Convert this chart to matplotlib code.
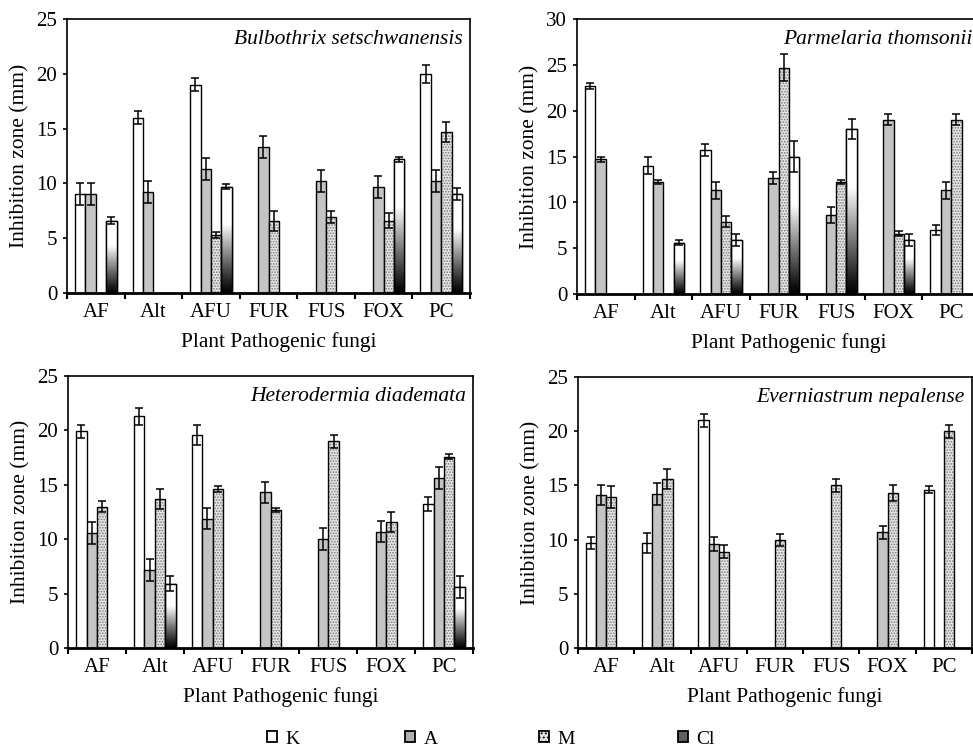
import numpy as np
import matplotlib
matplotlib.use("Agg")
import matplotlib.pyplot as plt
from matplotlib.patches import Patch

nan = np.nan
fungi = ["AF", "Alt", "AFU", "FUR", "FUS", "FOX", "PC"]
series_names = ["K", "A", "M", "Cl"]

# Bulbothrix setschwanensis
bul_K = [9.0, 16.0, 19.0, nan, nan, nan, 20.0]
bul_K_err = [1.0, 0.6, 0.6, nan, nan, nan, 0.8]
bul_A = [9.0, 9.2, 11.3, 13.3, 10.2, 9.7, 10.2]
bul_A_err = [1.0, 1.0, 1.0, 1.0, 1.0, 1.0, 1.0]
bul_M = [nan, nan, 5.3, 6.6, 6.9, 6.6, 14.7]
bul_M_err = [nan, nan, 0.25, 0.9, 0.55, 0.7, 0.9]
bul_Cl = [6.6, nan, 9.7, nan, nan, 12.2, 9.0]
bul_Cl_err = [0.3, nan, 0.25, nan, nan, 0.25, 0.55]

# Parmelaria thomsonii
par_K = [22.7, 14.0, 15.7, nan, nan, nan, 7.0]
par_K_err = [0.3, 0.9, 0.65, nan, nan, nan, 0.55]
par_A = [14.7, 12.2, 11.3, 12.7, 8.6, 19.0, 11.3]
par_A_err = [0.25, 0.2, 0.9, 0.65, 0.9, 0.6, 0.9]
par_M = [nan, nan, 7.9, 24.7, 12.2, 6.6, 19.0]
par_M_err = [nan, nan, 0.6, 1.5, 0.2, 0.25, 0.6]
par_Cl = [nan, 5.6, 5.9, 15.0, 18.0, 5.9, nan]
par_Cl_err = [nan, 0.3, 0.7, 1.7, 1.1, 0.7, nan]

# Heterodermia diademata
het_K = [19.9, 21.3, 19.6, nan, nan, nan, 13.2]
het_K_err = [0.6, 0.8, 0.9, nan, nan, nan, 0.65]
het_A = [10.6, 7.2, 11.9, 14.3, 10.0, 10.7, 15.6]
het_A_err = [1.0, 1.0, 1.0, 1.0, 1.0, 1.0, 1.0]
het_M = [13.0, 13.7, 14.6, 12.7, 19.0, 11.6, 17.6]
het_M_err = [0.5, 0.9, 0.3, 0.2, 0.6, 0.9, 0.2]
het_Cl = [nan, 5.9, nan, nan, nan, nan, 5.6]
het_Cl_err = [nan, 0.7, nan, nan, nan, nan, 1.0]

# Everniastrum nepalense
eve_K = [9.7, 9.7, 21.0, nan, nan, nan, 14.6]
eve_K_err = [0.55, 0.9, 0.6, nan, nan, nan, 0.3]
eve_A = [14.1, 14.2, 9.6, nan, nan, 10.7, nan]
eve_A_err = [0.9, 1.0, 0.65, nan, nan, 0.6, nan]
eve_M = [13.9, 15.6, 8.9, 10.0, 15.0, 14.3, 20.0]
eve_M_err = [1.0, 0.9, 0.6, 0.55, 0.6, 0.7, 0.6]
eve_Cl = [nan] * 7
eve_Cl_err = [nan] * 7

panels = [
    ("Bulbothrix setschwanensis", 25, [bul_K, bul_A, bul_M, bul_Cl],
     [bul_K_err, bul_A_err, bul_M_err, bul_Cl_err]),
    ("Parmelaria thomsonii", 30, [par_K, par_A, par_M, par_Cl],
     [par_K_err, par_A_err, par_M_err, par_Cl_err]),
    ("Heterodermia diademata", 25, [het_K, het_A, het_M, het_Cl],
     [het_K_err, het_A_err, het_M_err, het_Cl_err]),
    ("Everniastrum nepalense", 25, [eve_K, eve_A, eve_M, eve_Cl],
     [eve_K_err, eve_A_err, eve_M_err, eve_Cl_err]),
]

plt.rcParams['font.family'] = ['Liberation Serif', 'DejaVu Serif']
plt.rcParams['hatch.linewidth'] = 0.8

W, H = 973, 749
fig = plt.figure(figsize=(W / 100, H / 100), dpi=100)

# axes boxes in pixels: left, right, top, bottom
boxes = [(67, 470, 19, 293), (577, 980, 19, 294), (68, 473, 376, 648), (578, 972, 377, 648)]

bw = 0.18
grad_n = 200
t = np.linspace(0, 1, grad_n)
grad = np.where(t < 0.35, 1.0, 1.0 - (t - 0.35) / 0.65)
grad = np.clip(grad, 0, 1) ** 1.1
grad_img = grad.reshape(-1, 1)

for (title, ymax, vals, errs), (l, r, tp, bt) in zip(panels, boxes):
    ax = fig.add_axes([l / W, (H - bt) / H, (r - l) / W, (bt - tp) / H])
    xg = np.arange(len(fungi))
    for j in range(4):
        x = xg + 0.14 + bw * j + bw / 2
        v = np.array(vals[j], dtype=float)
        e = np.array(errs[j], dtype=float)
        if j == 0:
            ax.bar(x, v, bw, color='white', edgecolor='black', linewidth=1.0, zorder=2)
        elif j == 1:
            ax.bar(x, v, bw, color='#c4c4c4', edgecolor='black', linewidth=1.0, zorder=2)
        elif j == 2:
            ax.bar(x, v, bw, color='#e4e4e4', edgecolor='#7a7a7a', hatch='......',
                   linewidth=0, zorder=2)
            ax.bar(x, v, bw, color='none', edgecolor='black', linewidth=1.0, zorder=3)
        else:
            bars = ax.bar(x, v, bw, color='white', edgecolor='black', linewidth=1.0, zorder=2)
            for p, val in zip(bars.patches, v):
                if np.isnan(val):
                    continue
                im = ax.imshow(grad_img, extent=[p.get_x(), p.get_x() + p.get_width(), 0, val],
                               origin='upper', aspect='auto', cmap='gray', vmin=0, vmax=1,
                               zorder=2.5, interpolation='bilinear')
                im.set_clip_path(p)
            ax.bar(x, v, bw, color='none', edgecolor='black', linewidth=1.0, zorder=3)
        ax.errorbar(x, v, yerr=e, fmt='none', ecolor='black', elinewidth=1.1,
                    capsize=2.6, capthick=1.1, zorder=4)

    ax.set_xlim(0, len(fungi))
    ax.set_ylim(0, ymax)
    ax.set_aspect('auto')
    ax.set_yticks(np.arange(0, ymax + 1, 5))
    ax.set_xticks(np.arange(0, len(fungi) + 1))
    ax.set_xticklabels([])
    ax.set_xticks(xg + 0.5, minor=True)
    ax.set_xticklabels(fungi, minor=True)
    ax.tick_params(axis='x', which='major', length=4, width=1.5, direction='out')
    ax.tick_params(axis='x', which='minor', length=0, pad=7, labelsize=15)
    ax.tick_params(axis='y', length=3, width=1.2, direction='out', pad=4, labelsize=15)
    for s in ['left', 'top', 'right']:
        ax.spines[s].set_linewidth(1.2)
    ax.spines['bottom'].set_linewidth(2.0)
    ax.set_ylabel("Inhibition zone (mm)", fontsize=15.5, labelpad=5)
    ax.set_xlabel("Plant Pathogenic fungi", fontsize=15.5)
    ax.xaxis.set_label_coords(0.525, -49 / (bt - tp), transform=ax.transAxes)
    ax.xaxis.label.set_va('center')
    ax.text(0.982, 0.925, title, transform=ax.transAxes, ha='right', va='center',
            fontsize=15.5, style='italic')

handles = [
    Patch(facecolor='white', edgecolor='black', linewidth=1.3),
    Patch(facecolor='#b0b0b0', edgecolor='black', linewidth=1.3),
    Patch(facecolor='#e4e4e4', edgecolor='black', linewidth=1.3, hatch='....'),
    Patch(facecolor='#606060', edgecolor='black', linewidth=1.3),
]
legend_x = [267, 405, 539, 678]
for h, name, xp in zip(handles, series_names, legend_x):
    leg = fig.legend([h], [name], loc='center left', bbox_to_anchor=(xp / W, (H - 739) / H),
                     frameon=False, fontsize=14, handlelength=0.5, handleheight=0.5,
                     handletextpad=0.45, borderpad=0, borderaxespad=0)

fig.savefig("out.png", dpi=100)
